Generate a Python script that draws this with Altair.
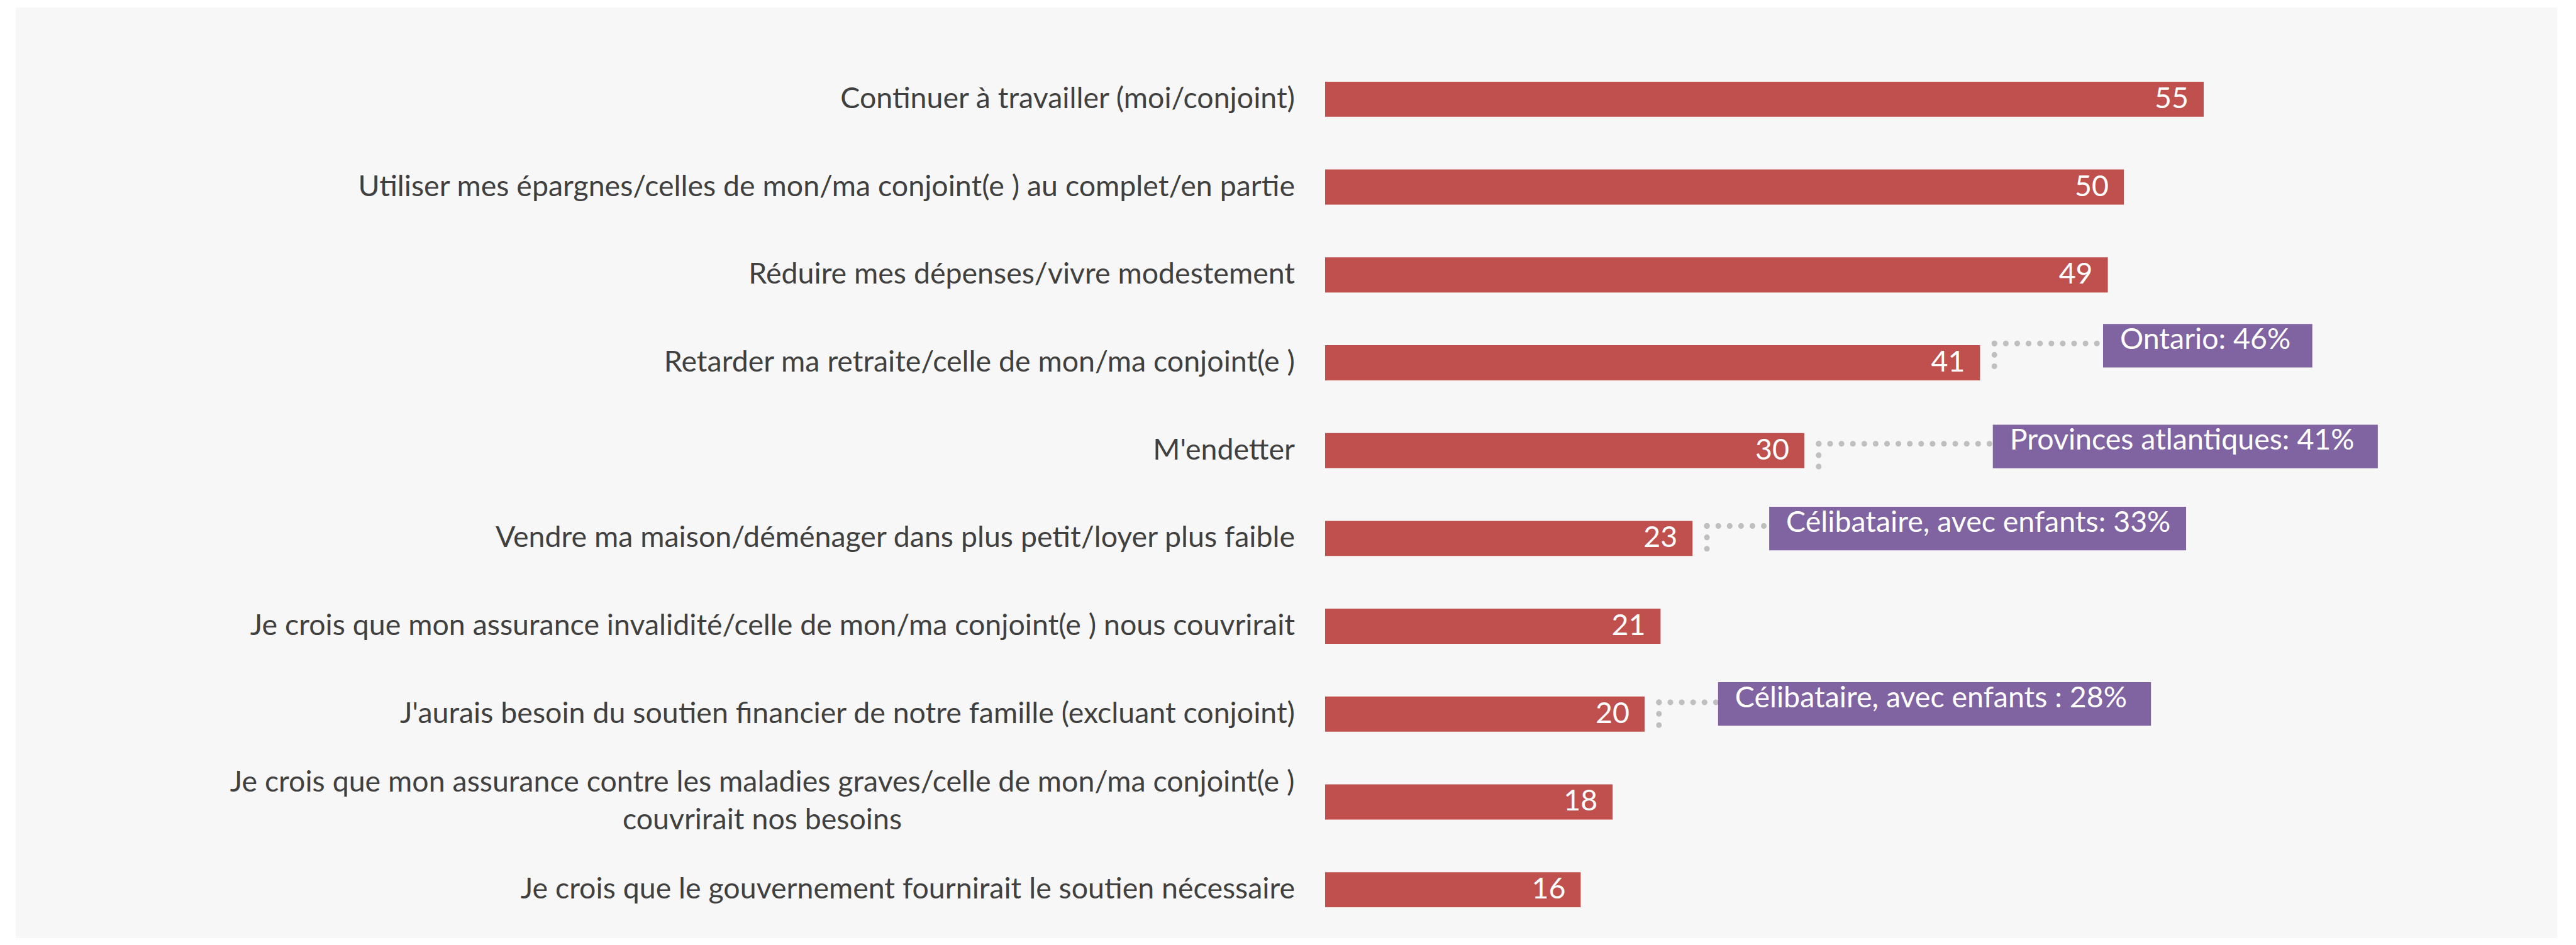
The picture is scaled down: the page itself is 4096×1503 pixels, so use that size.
import altair as alt
import pandas as pd

# ---------------- data ----------------
categories = [
    "Continuer à travailler (moi/conjoint)",
    "Utiliser mes épargnes/celles de mon/ma conjoint(e ) au complet/en partie",
    "Réduire mes dépenses/vivre modestement",
    "Retarder ma retraite/celle de mon/ma conjoint(e )",
    "M'endetter",
    "Vendre ma maison/déménager dans plus petit/loyer plus faible",
    "Je crois que mon assurance invalidité/celle de mon/ma conjoint(e ) nous couvrirait",
    "J'aurais besoin du soutien financier de notre famille (excluant conjoint)",
    ["Je crois que mon assurance contre les maladies graves/celle de mon/ma conjoint(e )",
     "couvrirait nos besoins"],
    "Je crois que le gouvernement fournirait le soutien nécessaire\u00a0",
]
values = [55, 50, 49, 41, 30, 23, 21, 20, 18, 16]

callout_texts = [
    "Ontario: 46%",
    "Provinces atlantiques: 41%",
    "Célibataire, avec enfants: 33%",
    "Célibataire, avec enfants : 28%",
]
callout_rows = [3, 4, 5, 7]

# ---------------- annotation layout (data units) ----------------
box_left = [48.7, 41.8, 27.8, 24.6]
box_right = [61.8, 65.9, 53.9, 51.7]
box_center_dy = [-0.194, -0.047, -0.112, -0.116]
line_dy = [-0.22, -0.078, -0.142, -0.134]
vline_len = 0.26
box_half = 0.248
text_dy = -0.064
conn_gap = 0.9

# ---------------- styles ----------------
FONT = "Lato"
FS = 46.5
BAR = "#C0504D"
PURPLE = "#8064A2"
TXT = "#404040"
DOT = "#BFBFBF"
W, H = 1524, 1397

bars = pd.DataFrame({
    "idx": list(range(len(values))),
    "value": values,
    "y0": [i - 0.2 for i in range(len(values))],
    "y1": [i + 0.2 for i in range(len(values))],
})
labels_single = pd.DataFrame({
    "idx": [i for i, c in enumerate(categories) if isinstance(c, str)],
    "label": [c for c in categories if isinstance(c, str)],
})
multi_i = [i for i, c in enumerate(categories) if not isinstance(c, str)][0]
labels_multi = pd.DataFrame({"idx": [multi_i], "label": [categories[multi_i]]})

rows = []
for k, r in enumerate(callout_rows):
    v = values[r]
    rows.append({
        "text": callout_texts[k],
        "cx": v + conn_gap,
        "hy": r + line_dy[k],
        "vy2": r + line_dy[k] + vline_len,
        "bx": box_left[k],
        "bx2": box_right[k],
        "by": r + box_center_dy[k] - box_half,
        "by2": r + box_center_dy[k] + box_half,
        "ty": r + box_center_dy[k] + text_dy,
    })
call = pd.DataFrame(rows)

xs = alt.Scale(domain=[0, 60], nice=False, zero=False)
ys = alt.Scale(domain=[-0.5, 9.5], reverse=True, nice=False, zero=False)
noax = None

panel = alt.Chart(pd.DataFrame({"a": [0]})).mark_rect(color="#F7F7F7").encode(
    x=alt.value(-2082), x2=alt.value(1959), y=alt.value(-76), y2=alt.value(1404)
)

bar_layer = alt.Chart(bars).mark_rect(color=BAR).encode(
    x=alt.X("value:Q", scale=xs, axis=noax),
    x2=alt.datum(0),
    y=alt.Y("y0:Q", scale=ys, axis=noax),
    y2="y1:Q",
)

val_text = alt.Chart(bars).mark_text(
    align="right", baseline="middle", dx=-24, color="white", font=FONT, fontSize=FS
).encode(
    x=alt.X("value:Q", scale=xs, axis=noax),
    y=alt.Y("idx:Q", scale=ys, axis=noax),
    text="value:Q",
)

lab_text = alt.Chart(labels_single).mark_text(
    align="right", baseline="middle", color=TXT, font=FONT, fontSize=FS
).encode(
    x=alt.value(-48),
    y=alt.Y("idx:Q", scale=ys, axis=noax),
    text="label:N",
)

lab_multi = alt.Chart(labels_multi).mark_text(
    align="center", baseline="middle", color=TXT, font=FONT, fontSize=FS,
    lineHeight=60, dy=-30
).encode(
    x=alt.value(-895),
    y=alt.Y("idx:Q", scale=ys, axis=noax),
    text="label",
)

dot_style = dict(color=DOT, strokeWidth=9, strokeDash=[0.1, 18], strokeCap="round")
hrule = alt.Chart(call).mark_rule(**dot_style).encode(
    x=alt.X("cx:Q", scale=xs, axis=noax), x2="bx:Q",
    y=alt.Y("hy:Q", scale=ys, axis=noax),
)
vrule = alt.Chart(call).mark_rule(**dot_style).encode(
    x=alt.X("cx:Q", scale=xs, axis=noax),
    y=alt.Y("hy:Q", scale=ys, axis=noax), y2="vy2:Q",
)
boxes = alt.Chart(call).mark_rect(color=PURPLE).encode(
    x=alt.X("bx:Q", scale=xs, axis=noax), x2="bx2:Q",
    y=alt.Y("by:Q", scale=ys, axis=noax), y2="by2:Q",
)
box_text = alt.Chart(call).mark_text(
    align="left", baseline="middle", dx=27, color="white", font=FONT, fontSize=FS
).encode(
    x=alt.X("bx:Q", scale=xs, axis=noax),
    y=alt.Y("ty:Q", scale=ys, axis=noax),
    text="text:N",
)

chart = alt.layer(
    panel, bar_layer, val_text, lab_text, lab_multi, hrule, vrule, boxes, box_text
).properties(
    width=W, height=H,
    autosize=alt.AutoSizeParams(type="none"),
    padding={"left": 2099, "top": 80, "right": 439, "bottom": 7},
    background="white",
).configure_view(stroke=None)

chart.save("out.html", embed_options={"renderer": "svg", "actions": False})
